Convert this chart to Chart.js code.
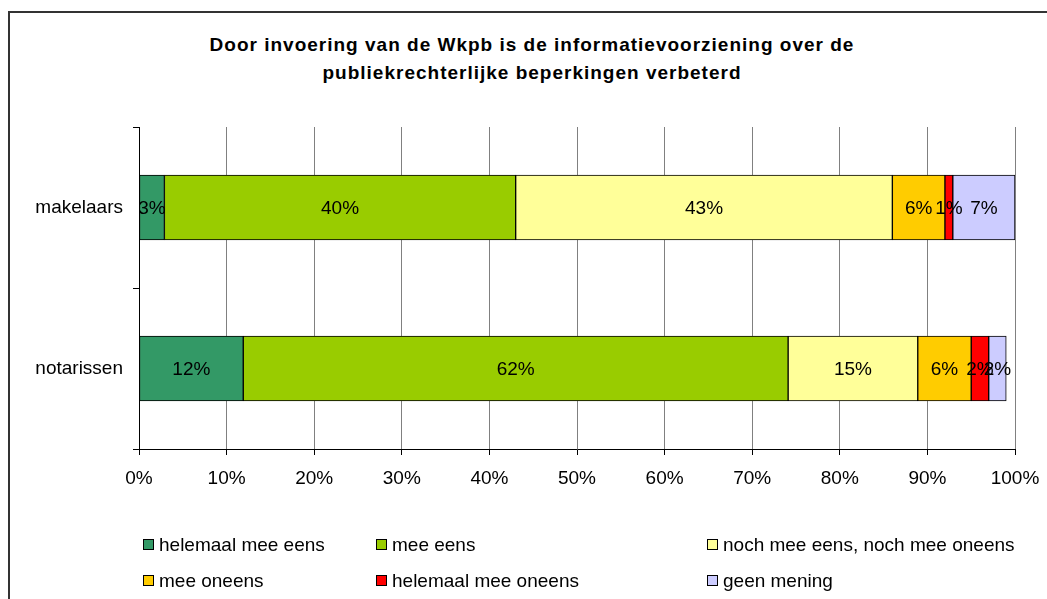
<!DOCTYPE html>
<html>
<head>
<meta charset="utf-8">
<script src="https://cdn.jsdelivr.net/npm/chart.js@4"></script>
<style>
  body { margin: 0; background: #fff; font-family: "Liberation Sans", Arial, sans-serif; }
  #wrap { position: relative; width: 1047px; height: 599px; overflow: hidden; }
  #frame { position: absolute; left: 8px; top: 11px; width: 1100px; height: 700px; border: 2px solid #333; box-sizing: border-box; }
  #title { position: absolute; left: 0; top: 31px; width: 1064px; text-align: center; font-weight: bold; font-size: 19px; letter-spacing: 1px; line-height: 28px; color: #000; }
  canvas { position: absolute; left: 0; top: 0; }
  .leg { position: absolute; font-size: 19px; color: #000; white-space: nowrap; line-height: 22px; }
  .leg span { display: inline-block; width: 9px; height: 9px; border: 1px solid #000; margin-right: 5px; vertical-align: 1px; }
</style>
</head>
<body>
<div id="wrap">
  <div id="frame"></div>
  <div id="title">Door invoering van de Wkpb is de informatievoorziening over de<br>publiekrechterlijke beperkingen verbeterd</div>
  <canvas id="chart" width="1047" height="599"></canvas>
  <div id="legend"></div>
</div>
<script>
const categories = ['makelaars', 'notarissen'];
const seriesNames = ['helemaal mee eens', 'mee eens', 'noch mee eens, noch mee oneens', 'mee oneens', 'helemaal mee oneens', 'geen mening'];
const helemaalMeeEens = [2.9, 11.9];
const meeEens = [40.1, 62.2];
const noch = [43.0, 14.8];
const meeOneens = [6.0, 6.1];
const helemaalMeeOneens = [0.9, 2.0];
const geenMening = [7.1, 2.0];
const colors = ['#339966', '#99CC00', '#FFFF99', '#FFCC00', '#FF0000', '#CCCCFF'];
const xTicks = [0, 10, 20, 30, 40, 50, 60, 70, 80, 90, 100];

const allSeries = [helemaalMeeEens, meeEens, noch, meeOneens, helemaalMeeOneens, geenMening];
const font = '"Liberation Sans", Arial, sans-serif';

// labels in het midden van elk segment
const segLabels = {
    id: 'segLabels',
    afterDatasetsDraw(chart) {
        const ctx = chart.ctx;
        ctx.save();
        ctx.font = '19px ' + font;
        ctx.fillStyle = '#000';
        ctx.textAlign = 'center';
        ctx.textBaseline = 'middle';
        chart.data.datasets.forEach((ds, i) => {
            chart.getDatasetMeta(i).data.forEach((bar, j) => {
                const x = (bar.x + bar.base) / 2;
                ctx.fillText(Math.round(ds.data[j]) + '%', x, bar.y + 1);
            });
        });
        ctx.restore();
    }
};

new Chart(document.getElementById('chart').getContext('2d'), {
    type: 'bar',
    data: {
        labels: categories,
        datasets: allSeries.map((d, i) => ({
            label: seriesNames[i],
            data: d,
            backgroundColor: colors[i],
            borderColor: '#000',
            borderWidth: 1,
            borderSkipped: false,
            barThickness: 65
        }))
    },
    options: {
        indexAxis: 'y',
        responsive: false,
        animation: false,
        layout: { padding: { top: 127, right: 32, left: 0, bottom: 0 } },
        scales: {
            x: {
                stacked: true,
                min: 0,
                max: 100,
                afterFit: s => { s.height = 150; s.paddingRight = 0; s.paddingLeft = 0; },
                afterBuildTicks: s => { s.ticks = xTicks.map(v => ({ value: v })); },
                ticks: {
                    callback: v => v + '%',
                    color: '#000',
                    font: { size: 19, family: font },
                    padding: 12,
                    maxRotation: 0
                },
                grid: { color: '#808080', lineWidth: 1, tickLength: 6, tickColor: '#000' },
                border: { color: '#000', width: 1 }
            },
            y: {
                stacked: true,
                afterFit: s => { s.width = 139; },
                ticks: {
                    color: '#000',
                    font: { size: 19, family: font },
                    padding: 10
                },
                grid: { offset: true, drawOnChartArea: false, tickLength: 6, color: '#000' },
                border: { color: '#000', width: 1 }
            }
        },
        plugins: {
            legend: { display: false },
            tooltip: { enabled: false }
        }
    },
    plugins: [segLabels]
});

// legenda: 3 kolommen, 2 rijen
const legCols = [143, 376, 707];
const legRows = [534, 570];
const legend = document.getElementById('legend');
seriesNames.forEach((name, i) => {
    const el = document.createElement('div');
    el.className = 'leg';
    el.style.left = legCols[i % 3] + 'px';
    el.style.top = legRows[Math.floor(i / 3)] + 'px';
    el.innerHTML = '<span style="background:' + colors[i] + '"></span>' + name;
    legend.appendChild(el);
});
</script>
</body>
</html>
